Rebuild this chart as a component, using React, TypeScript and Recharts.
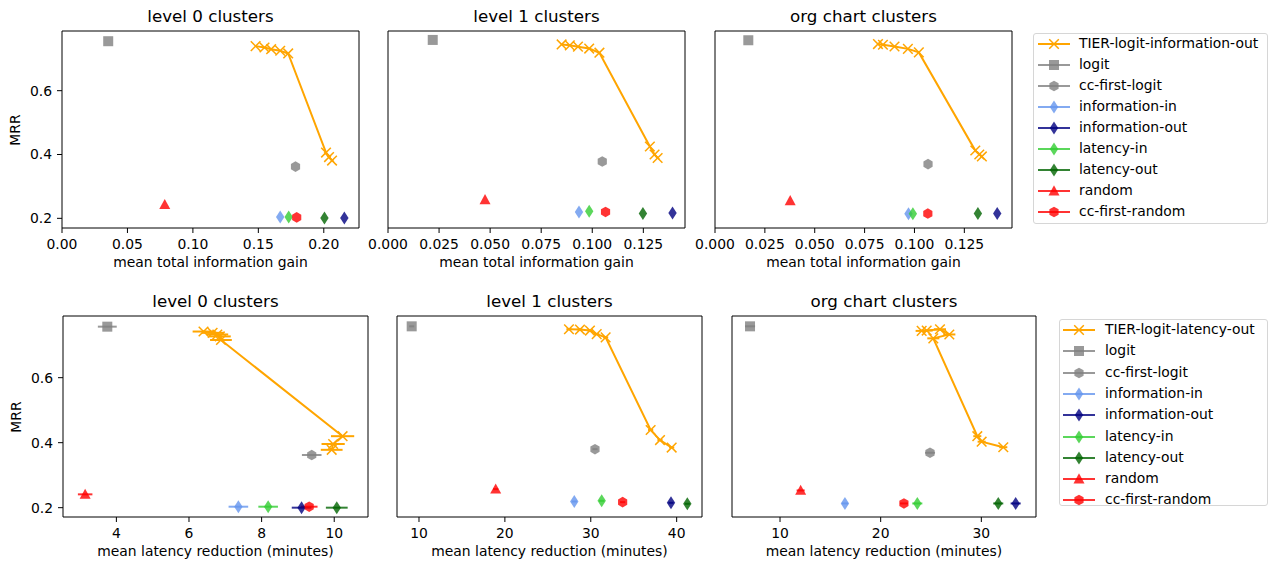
import React from 'react';
import { ScatterChart, Scatter, XAxis, YAxis, ErrorBar, ReferenceArea } from 'recharts';

const FONT = '"DejaVu Sans", Verdana, sans-serif';

// baseline methods, same order as the legend
const baselineNames = ['logit', 'cc-first-logit', 'information-in', 'information-out', 'latency-in', 'latency-out', 'random', 'cc-first-random'];
const baselineColors = ['#808080', '#808080', '#6495ED', '#000080', '#32CD32', '#006400', '#FF0000', '#FF0000'];
const baselineMarkers = ['square', 'hexagon', 'diamond', 'diamond', 'diamond', 'diamond', 'triangle', 'hexagon'];
const TIER_COLOR = '#FFA500';

// top row: mean total information gain
const infoL0BaseX = [0.0353, 0.1784, 0.1667, 0.2157, 0.1732, 0.2005, 0.0785, 0.1793];
const infoL0BaseY = [0.755, 0.362, 0.204, 0.201, 0.204, 0.201, 0.243, 0.203];
const infoL0TierX = [0.1479, 0.1547, 0.1598, 0.1667, 0.1728, 0.2017, 0.204, 0.2063];
const infoL0TierY = [0.7396, 0.7354, 0.73, 0.725, 0.7167, 0.406, 0.392, 0.381];

const infoL1BaseX = [0.0219, 0.1049, 0.0935, 0.1393, 0.0985, 0.1248, 0.0475, 0.1065];
const infoL1BaseY = [0.759, 0.378, 0.22, 0.217, 0.222, 0.215, 0.258, 0.22];
const infoL1TierX = [0.085, 0.089, 0.093, 0.0985, 0.1035, 0.1282, 0.1305, 0.132];
const infoL1TierY = [0.745, 0.742, 0.738, 0.732, 0.719, 0.425, 0.4, 0.389];

const infoOrgBaseX = [0.0167, 0.1068, 0.097, 0.1415, 0.0992, 0.1318, 0.0377, 0.1067];
const infoOrgBaseY = [0.758, 0.37, 0.214, 0.215, 0.214, 0.215, 0.255, 0.215];
const infoOrgTierX = [0.0817, 0.0842, 0.09, 0.0967, 0.1022, 0.1305, 0.1325, 0.1338];
const infoOrgTierY = [0.746, 0.744, 0.7385, 0.731, 0.72, 0.4125, 0.4, 0.394];

// bottom row: mean latency reduction (minutes), with x error
const latL0BaseX = [3.75, 9.38, 7.36, 9.1, 8.18, 10.07, 3.14, 9.31];
const latL0BaseY = [0.757, 0.362, 0.203, 0.2, 0.203, 0.2, 0.241, 0.203];
const latL0BaseErr = [0.26, 0.27, 0.27, 0.27, 0.27, 0.3, 0.2, 0.23];
const latL0TierX = [6.4, 6.65, 6.78, 6.85, 6.88, 10.23, 9.97, 9.93];
const latL0TierY = [0.742, 0.738, 0.733, 0.727, 0.716, 0.42, 0.396, 0.378];
const latL0TierErr = [0.3, 0.3, 0.3, 0.3, 0.3, 0.32, 0.32, 0.3];

const latL1BaseX = [9.15, 30.49, 28.08, 39.34, 31.27, 41.24, 18.93, 33.71];
const latL1BaseY = [0.758, 0.38, 0.219, 0.215, 0.221, 0.212, 0.257, 0.217];
const latL1BaseErr = [0.3, 0.3, 0.3, 0.3, 0.3, 0.3, 0.3, 0.3];
const latL1TierX = [27.46, 28.74, 29.9, 30.69, 31.73, 36.97, 38.06, 39.42];
const latL1TierY = [0.749, 0.748, 0.745, 0.734, 0.724, 0.439, 0.408, 0.385];
const latL1TierErr = [0.3, 0.3, 0.3, 0.3, 0.3, 0.3, 0.3, 0.3];

const latOrgBaseX = [7.02, 24.9, 16.45, 33.41, 23.64, 31.68, 12.05, 22.31];
const latOrgBaseY = [0.758, 0.369, 0.213, 0.213, 0.213, 0.213, 0.253, 0.213];
const latOrgBaseErr = [0.5, 0.5, 0.3, 0.5, 0.5, 0.5, 0.4, 0.4];
const latOrgTierX = [24.07, 24.57, 25.89, 26.82, 25.23, 29.6, 30.03, 32.18];
const latOrgTierY = [0.744, 0.745, 0.749, 0.733, 0.721, 0.42, 0.403, 0.386];
const latOrgTierErr = [0.6, 0.6, 0.6, 0.6, 0.6, 0.4, 0.4, 0.4];

const infoTicks0 = [0, 0.05, 0.1, 0.15, 0.2];
const infoTicks1 = [0, 0.025, 0.05, 0.075, 0.1, 0.125];
const latTicks0 = [4, 6, 8, 10];
const latTicks1 = [10, 20, 30, 40];
const latTicksOrg = [10, 20, 30];
const mrrTicks = [0.2, 0.4, 0.6];

const rows = (xs: number[], ys: number[], errs?: number[]) =>
  xs.map((x, i) => ({ x, y: ys[i], err: errs ? errs[i] : 0 }));

function marker(kind: string, cx: number, cy: number, color: string) {
  if (cx == null || cy == null) return <g />;
  const op = 0.8;
  if (kind === 'square') return <rect x={cx - 5} y={cy - 5} width={10} height={10} fill={color} fillOpacity={op} />;
  if (kind === 'hexagon') {
    const pts = [0, 1, 2, 3, 4, 5].map((k) => {
      const a = (Math.PI / 180) * (90 + 60 * k);
      return `${cx + 5.3 * Math.cos(a)},${cy - 5.3 * Math.sin(a)}`;
    });
    return <polygon points={pts.join(' ')} fill={color} fillOpacity={op} />;
  }
  if (kind === 'diamond')
    return <polygon points={`${cx},${cy - 6.5} ${cx + 4.2},${cy} ${cx},${cy + 6.5} ${cx - 4.2},${cy}`} fill={color} fillOpacity={op} />;
  if (kind === 'triangle')
    return <polygon points={`${cx},${cy - 5.7} ${cx + 5.5},${cy + 4.4} ${cx - 5.5},${cy + 4.4}`} fill={color} fillOpacity={op} />;
  // x marker
  return (
    <g stroke={color} strokeWidth={1.5}>
      <line x1={cx - 4.8} y1={cy - 4.8} x2={cx + 4.8} y2={cy + 4.8} />
      <line x1={cx - 4.8} y1={cy + 4.8} x2={cx + 4.8} y2={cy - 4.8} />
    </g>
  );
}

const ML = 60;
const MR = 10;
const MT = 10;
const MB = 50;

type PanelProps = {
  left: number; top: number; w: number; h: number;
  title: string; xLabel: string;
  xDomain: [number, number]; xTicks: number[]; digits: number;
  yDomain: [number, number]; yLabels: boolean;
  baseX: number[]; baseY: number[]; baseErr?: number[];
  tierX: number[]; tierY: number[]; tierErr?: number[];
};

const tickStyle = { fontSize: 13.9, fill: '#000', fontFamily: FONT };

function Panel(p: PanelProps) {
  const tier = rows(p.tierX, p.tierY, p.tierErr);
  const hasErr = !!p.baseErr;
  return (
    <>
      <div style={{ position: 'absolute', left: p.left + p.w / 2, top: p.top - 15, transform: 'translate(-50%,-50%)', fontSize: 16.7, lineHeight: 1, whiteSpace: 'nowrap' }}>
        {p.title}
      </div>
      <div style={{ position: 'absolute', left: p.left + p.w / 2, top: p.top + p.h + 35, transform: 'translate(-50%,-50%)', fontSize: 13.9, lineHeight: 1, whiteSpace: 'nowrap' }}>
        {p.xLabel}
      </div>
      {p.yLabels && (
        <div style={{ position: 'absolute', left: p.left - 46, top: p.top + p.h / 2, transform: 'translate(-50%,-50%) rotate(-90deg)', fontSize: 13.9, lineHeight: 1, whiteSpace: 'nowrap' }}>
          MRR
        </div>
      )}
      <div style={{ position: 'absolute', left: p.left - ML, top: p.top - MT }}>
        <ScatterChart width={p.w + ML + MR} height={p.h + MT + MB} margin={{ top: MT, right: MR, bottom: 0, left: 0 }}>
          <XAxis
            type="number" dataKey="x" domain={p.xDomain} ticks={p.xTicks} allowDataOverflow
            height={MB} axisLine={false} tickSize={5} tickMargin={6}
            tickLine={{ stroke: '#000', strokeWidth: 1 }} tick={tickStyle}
            tickFormatter={(v: number) => v.toFixed(p.digits)}
          />
          <YAxis
            type="number" dataKey="y" domain={p.yDomain} ticks={mrrTicks} allowDataOverflow
            width={ML} axisLine={false} tickSize={5} tickMargin={5}
            tickLine={{ stroke: '#000', strokeWidth: 1 }} tick={p.yLabels ? tickStyle : false}
            tickFormatter={(v: number) => v.toFixed(1)}
          />
          <ReferenceArea x1={p.xDomain[0]} x2={p.xDomain[1]} y1={p.yDomain[0]} y2={p.yDomain[1]} fill="none" stroke="#000" strokeWidth={1} />
          {baselineNames.map((name, i) => (
            <Scatter
              key={name} name={name} isAnimationActive={false}
              data={[{ x: p.baseX[i], y: p.baseY[i], err: p.baseErr ? p.baseErr[i] : 0 }]}
              fill={baselineColors[i]}
              shape={(s: any) => marker(baselineMarkers[i], s.cx, s.cy, baselineColors[i])}
            >
              {hasErr && <ErrorBar dataKey="err" direction="x" width={0} stroke={baselineColors[i]} strokeOpacity={0.8} strokeWidth={2} />}
            </Scatter>
          ))}
          <Scatter
            name="TIER" data={tier} isAnimationActive={false} fill={TIER_COLOR}
            line={{ stroke: TIER_COLOR, strokeWidth: 2 }}
            shape={(s: any) => marker('x', s.cx, s.cy, TIER_COLOR)}
          >
            {hasErr && <ErrorBar dataKey="err" direction="x" width={0} stroke={TIER_COLOR} strokeWidth={2} />}
          </Scatter>
        </ScatterChart>
      </div>
    </>
  );
}

function Legend({ left, top, width, height, first, step, handleX, textX }: any) {
  const names = [first, ...baselineNames];
  const colors = [TIER_COLOR, ...baselineColors];
  const markers = ['x', ...baselineMarkers];
  return (
    <>
      <div style={{ position: 'absolute', left, top, width, height, border: '1px solid #d6d6d6', borderRadius: 3, boxSizing: 'border-box' }} />
      {names.map((n, i) => (
        <React.Fragment key={n}>
          <svg style={{ position: 'absolute', left: handleX, top: top + 11 + i * step - 8 }} width={32} height={16}>
            <line x1={0} y1={8} x2={32} y2={8} stroke={colors[i]} strokeOpacity={i === 0 ? 1 : 0.8} strokeWidth={2} />
            {marker(markers[i], 16, 8, colors[i])}
          </svg>
          <div style={{ position: 'absolute', left: textX, top: top + 11 + i * step, transform: 'translateY(-50%)', fontSize: 13.9, lineHeight: 1, whiteSpace: 'nowrap' }}>
            {n}
          </div>
        </React.Fragment>
      ))}
    </>
  );
}

export default function App() {
  const topY: [number, number] = [0.1697, 0.787];
  const botY: [number, number] = [0.1713, 0.7898];
  return (
    <div style={{ position: 'absolute', left: 0, top: 0, width: 1274, height: 565, background: '#fff', fontFamily: FONT, color: '#000' }}>
      <Panel left={62} top={31} w={297} h={197} title="level 0 clusters" xLabel="mean total information gain"
        xDomain={[0, 0.2269]} xTicks={infoTicks0} digits={2} yDomain={topY} yLabels
        baseX={infoL0BaseX} baseY={infoL0BaseY} tierX={infoL0TierX} tierY={infoL0TierY} />
      <Panel left={388} top={31} w={297} h={197} title="level 1 clusters" xLabel="mean total information gain"
        xDomain={[0, 0.1454]} xTicks={infoTicks1} digits={3} yDomain={topY} yLabels={false}
        baseX={infoL1BaseX} baseY={infoL1BaseY} tierX={infoL1TierX} tierY={infoL1TierY} />
      <Panel left={715} top={31} w={297} h={197} title="org chart clusters" xLabel="mean total information gain"
        xDomain={[0, 0.1489]} xTicks={infoTicks1} digits={3} yDomain={topY} yLabels={false}
        baseX={infoOrgBaseX} baseY={infoOrgBaseY} tierX={infoOrgTierX} tierY={infoOrgTierY} />
      <Panel left={63} top={316} w={305} h={201} title="level 0 clusters" xLabel="mean latency reduction (minutes)"
        xDomain={[2.53, 10.93]} xTicks={latTicks0} digits={0} yDomain={botY} yLabels
        baseX={latL0BaseX} baseY={latL0BaseY} baseErr={latL0BaseErr} tierX={latL0TierX} tierY={latL0TierY} tierErr={latL0TierErr} />
      <Panel left={397} top={316} w={305} h={201} title="level 1 clusters" xLabel="mean latency reduction (minutes)"
        xDomain={[7.44, 42.95]} xTicks={latTicks1} digits={0} yDomain={botY} yLabels={false}
        baseX={latL1BaseX} baseY={latL1BaseY} baseErr={latL1BaseErr} tierX={latL1TierX} tierY={latL1TierY} tierErr={latL1TierErr} />
      <Panel left={732} top={316} w={304} h={201} title="org chart clusters" xLabel="mean latency reduction (minutes)"
        xDomain={[5.23, 35.43]} xTicks={latTicksOrg} digits={0} yDomain={botY} yLabels={false}
        baseX={latOrgBaseX} baseY={latOrgBaseY} baseErr={latOrgBaseErr} tierX={latOrgTierX} tierY={latOrgTierY} tierErr={latOrgTierErr} />
      <Legend left={1033} top={33} width={235} height={191} first="TIER-logit-information-out" step={21} handleX={1038} textX={1079} />
      <Legend left={1059} top={319} width={209} height={187} first="TIER-logit-latency-out" step={21.3} handleX={1063} textX={1105} />
    </div>
  );
}
